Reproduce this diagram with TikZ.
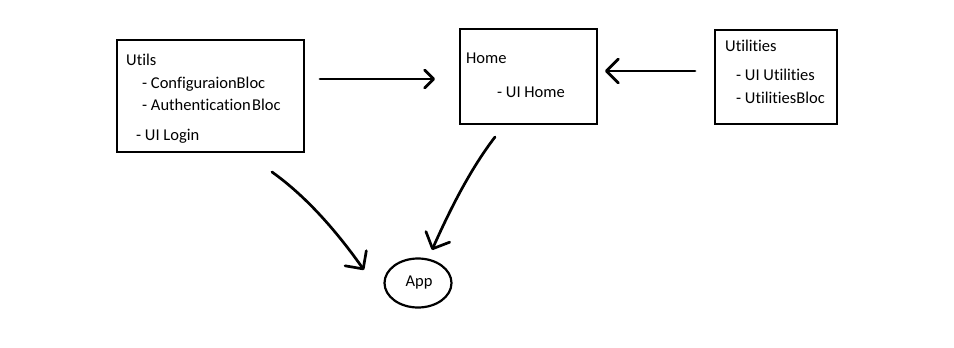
\documentclass[tikz,border=0pt]{standalone}
\usepackage{fontspec}
\setmainfont{Carlito}[Ligatures=NoCommon]
\usetikzlibrary{arrows.meta,shapes.geometric}
\begin{document}
\begin{tikzpicture}[x=1pt,y=-1pt,
  box/.style={draw=black,line width=1.1pt,inner sep=0pt},
  lbl/.style={anchor=base west,inner sep=0pt,font=\fontsize{16.5}{18}\selectfont},
  pen/.style={draw=black,line width=2.7pt,line cap=round,line join=round},
  barb/.style={-{Straight Barb[length=#1,width=2*#1,line cap=round,line join=round]}},
]
% page extent
\useasboundingbox (0,0) rectangle (954,348);

% module boxes
\node[box,minimum width=187pt,minimum height=112pt] (utils) at (210.5,96) {};
\node[box,minimum width=137pt,minimum height=95pt] (home) at (528.5,76.5) {};
\node[box,minimum width=122pt,minimum height=94pt] (utilities) at (776,77) {};
\node[draw=black,line width=2.2pt,ellipse,minimum width=67pt,minimum height=49pt,inner sep=0pt] (app) at (418,283) {};

% box contents
\node[lbl] (t1) at (126,65) {Utils};
\node[lbl] (t2) at (142,88) {- ConfiguraionBloc};
\node[lbl] (t3) at (142,110) {- Authentication\hspace{1.5pt}Bloc};
\node[lbl] (t4) at (136,140) {- UI Login};
\node[lbl] (h1) at (466,63) {Home};
\node[lbl] (h2) at (497,97) {- UI Home};
\node[lbl] (u1) at (725,51) {Utilities};
\node[lbl] (u2) at (736,80) {- UI Utilities};
\node[lbl] (u3) at (736,103) {- UtilitiesBloc};
\node[lbl,anchor=center] (a1) at (419,283) {App};

% connector ends
\coordinate (r0) at (320,79);
\coordinate (r1) at (435,79);
\coordinate (l0) at (695,71);
\coordinate (l1) at (605,71);
\coordinate (d0) at (272,172);
\coordinate (d1) at (364,270);
\coordinate (e0) at (495,137);
\coordinate (e1) at (432,250);

% hand-drawn arrows
\draw[pen,barb=9pt] (r0) -- (r1);
\draw[pen,barb=12pt] (l0) -- (l1);
\draw[pen,barb=13pt] (d0) .. controls (300,192) and (330,222) .. (d1);
\draw[pen,barb=13pt] (e0) .. controls (472,167) and (452,205) .. (e1);
\end{tikzpicture}
\end{document}
